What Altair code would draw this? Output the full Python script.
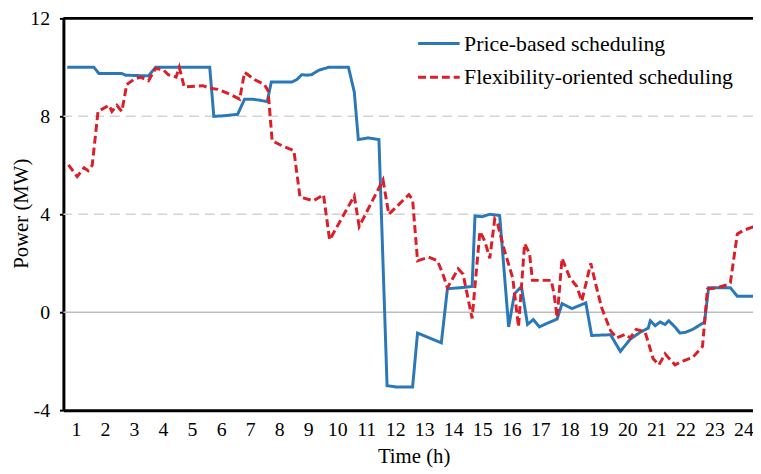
import altair as alt
import pandas as pd

# ---- data (time in hours, power in MW) ----
series_names = ["Price-based scheduling", "Flexibility-oriented scheduling"]

price_time = [0.70, 1.62, 1.79, 2.58, 2.71, 3.50, 3.74, 5.61, 5.75, 6.06, 6.57, 6.81,
              7.08, 7.32, 7.59, 7.73, 8.44, 8.61, 8.78, 8.95, 9.12, 9.36, 9.70, 10.39,
              10.59, 10.73, 11.07, 11.44, 11.72, 12.02, 12.60, 12.77, 13.59, 13.80, 14.24,
              14.65, 14.75, 14.99, 15.26, 15.60, 15.91, 16.11, 16.35, 16.56, 16.76, 16.97,
              17.24, 17.58, 17.75, 18.09, 18.57, 18.77, 19.42, 19.76, 20.10, 20.44, 20.72,
              20.79, 20.96, 21.13, 21.30, 21.43, 21.64, 21.81, 22.01, 22.25, 22.46, 22.66,
              22.80, 23.55, 23.79, 24.37]
price_power = [10.0, 10.0, 9.75, 9.75, 9.68, 9.65, 10.0, 10.0, 8.0, 8.02, 8.08, 8.7,
               8.7, 8.66, 8.6, 9.4, 9.4, 9.5, 9.7, 9.68, 9.7, 9.88, 10.0, 10.0,
               9.0, 7.05, 7.12, 7.05, -3.0, -3.05, -3.05, -0.85, -1.25, 0.96, 1.0,
               1.05, 3.93, 3.9, 4.0, 3.95, -0.6, 0.75, 1.05, -0.5, -0.3, -0.6,
               -0.45, -0.28, 0.35, 0.15, 0.38, -0.95, -0.92, -1.6, -1.1, -0.82, -0.65,
               -0.35, -0.55, -0.4, -0.5, -0.35, -0.6, -0.85, -0.82, -0.7, -0.55, -0.4,
               1.0, 1.0, 0.65, 0.65]

flex_time = [0.74, 1.04, 1.28, 1.42, 1.56, 1.76, 2.14, 2.24, 2.41, 2.58, 2.75, 2.99,
             3.23, 3.50, 3.74, 4.01, 4.18, 4.45, 4.56, 4.73, 5.37, 5.61, 5.89, 6.30,
             6.64, 6.81, 7.15, 7.49, 7.62, 7.76, 8.10, 8.51, 8.72, 9.19, 9.53, 9.74,
             10.59, 10.76, 11.58, 11.78, 12.47, 12.60, 12.77, 13.15, 13.46, 13.66, 13.80,
             14.17, 14.34, 14.65, 14.92, 15.09, 15.26, 15.43, 15.53, 15.77, 16.05, 16.25,
             16.46, 16.63, 16.73, 17.38, 17.48, 17.58, 17.75, 18.02, 18.26, 18.43, 18.74,
             18.91, 19.11, 19.42, 19.63, 19.93, 20.10, 20.31, 20.61, 20.89, 21.09, 21.30,
             21.64, 21.91, 22.25, 22.59, 22.76, 23.10, 23.38, 23.55, 23.79, 24.02, 24.37]
flex_power = [6.02, 5.54, 5.9, 5.78, 6.0, 8.2, 8.45, 8.2, 8.45, 8.2, 9.3, 9.5,
              9.6, 9.45, 9.95, 9.9, 9.7, 9.6, 10.0, 9.2, 9.25, 9.15, 9.1, 8.9,
              8.7, 9.8, 9.5, 9.3, 9.05, 7.0, 6.8, 6.6, 4.7, 4.55, 4.8, 2.95,
              4.75, 3.5, 5.4, 4.0, 4.8, 4.6, 2.1, 2.25, 2.1, 1.5, 1.0,
              1.77, 1.55, -0.25, 3.3, 2.9, 2.2, 3.8, 3.6, 2.5, 1.4, -0.6,
              2.8, 2.4, 1.3, 1.3, 0.7, -0.22, 2.2, 1.4, 1.05, 0.45, 2.0,
              1.15, 0.2, -0.75, -1.05, -0.9, -1.05, -0.7, -0.8, -1.9, -2.15, -1.7,
              -2.15, -2.0, -1.85, -1.4, 0.95, 1.0, 1.1, 1.2, 3.2, 3.35, 3.5]

x_ticks = list(range(1, 25))
y_ticks = [-4, 0, 4, 8, 12]
dashed_grid = [4, 8]
zero_line = [0]
top_border = [12]

series_colors = ["#2a78b8", "#dc1e28"]
series_dashes = [[1, 0], [8, 4]]

FONT = "Liberation Serif"

df = pd.concat([
    pd.DataFrame({"t": price_time, "p": price_power, "s": series_names[0],
                  "o": range(len(price_time))}),
    pd.DataFrame({"t": flex_time, "p": flex_power, "s": series_names[1],
                  "o": range(len(flex_time))}),
])

x_scale = alt.Scale(domain=[0.567, 24.33], nice=False, zero=False)
y_scale = alt.Scale(domain=[-4, 12], nice=False, zero=False)

y_axis = alt.Axis(
    title="Power (MW)", values=y_ticks, labelExpr="datum.value + ''",
    ticks=True, tickSize=4, tickWidth=2, tickColor="black", grid=False,
    domainColor="black", domainWidth=3,
    labelFont=FONT, labelFontSize=20, labelColor="black", labelPadding=10,
    labelFlush=False,
    titleFont=FONT, titleFontSize=21, titleFontWeight="normal", titleColor="black",
    titleX=-42, titleY=197, titleAlign="center", titleBaseline="middle", titleAngle=270,
)

x_axis = alt.Axis(
    title="Time (h)", values=x_ticks, labelExpr="datum.value + ''",
    ticks=False, tickSize=0, grid=False, domainColor="black", domainWidth=3,
    labelFont=FONT, labelFontSize=20, labelColor="black", labelPadding=10,
    labelOverlap=False, labelFlush=False,
    titleFont=FONT, titleFontSize=21, titleFontWeight="normal", titleColor="black",
    titleX=354, titleY=47, titleAlign="center", titleBaseline="middle",
)

grid = alt.Chart(pd.DataFrame({"p": dashed_grid})).mark_rule(
    color="#d4d4d4", strokeWidth=1.5, strokeDash=[10, 6]
).encode(y=alt.Y("p:Q", scale=y_scale, axis=y_axis))

zero = alt.Chart(pd.DataFrame({"p": zero_line})).mark_rule(
    color="#bdbdbd", strokeWidth=1.5
).encode(y=alt.Y("p:Q", scale=y_scale, axis=y_axis))

top = alt.Chart(pd.DataFrame({"p": top_border})).mark_rule(
    color="black", strokeWidth=3
).encode(y=alt.Y("p:Q", scale=y_scale, axis=y_axis))

legend = alt.Legend(
    title=None, orient="none", legendX=357, legendY=3,
    symbolType="stroke", symbolSize=1764, symbolStrokeWidth=3,
    labelFont=FONT, labelFontSize=22, labelColor="black",
    labelOffset=3, rowPadding=0, padding=0, labelLimit=500,
)

lines = alt.Chart(df).mark_line(strokeWidth=3, clip=True).encode(
    x=alt.X("t:Q", scale=x_scale, axis=x_axis),
    y=alt.Y("p:Q", scale=y_scale, axis=y_axis),
    color=alt.Color("s:N", scale=alt.Scale(domain=series_names, range=series_colors),
                    legend=legend),
    strokeDash=alt.StrokeDash("s:N", scale=alt.Scale(domain=series_names, range=series_dashes),
                              legend=legend),
    order="o:Q",
)

chart = alt.layer(grid, zero, lines, top).properties(
    width=697, height=396,
    padding={"left": 56, "top": 8, "right": 0, "bottom": 58},
    autosize=alt.AutoSizeParams(type="none"),
    background="white",
).configure_view(stroke=None)

chart.save("out.html", embed_options={"renderer": "svg", "actions": False})
